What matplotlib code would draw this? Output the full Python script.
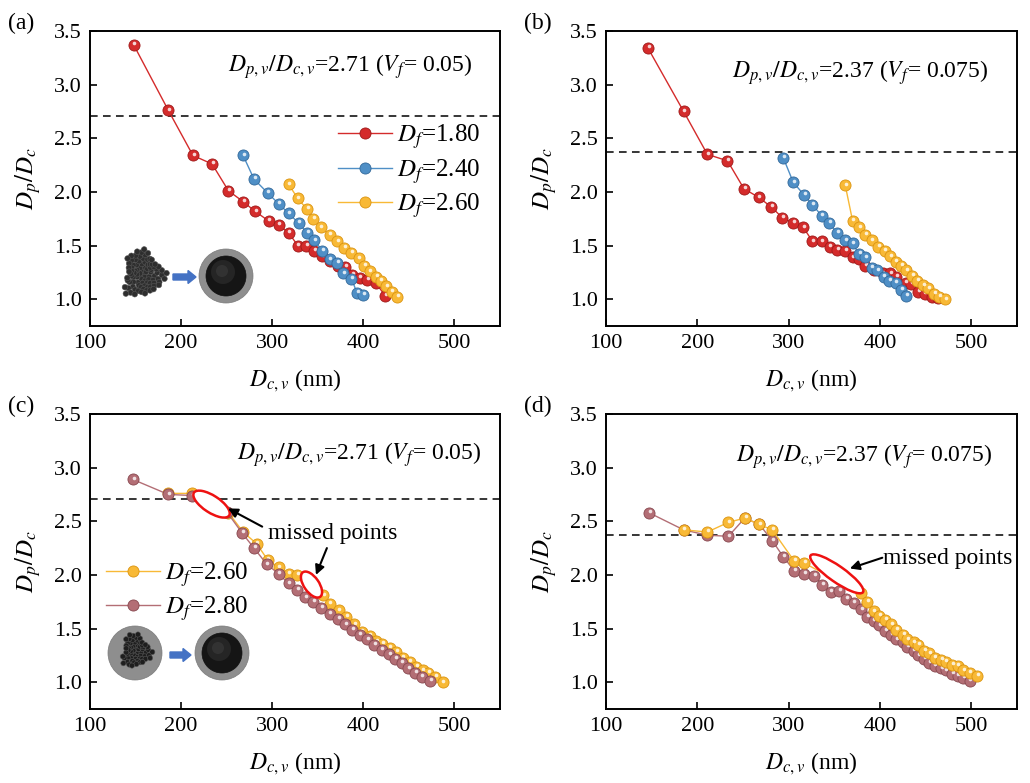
import numpy as np
import matplotlib
matplotlib.use("Agg")
import matplotlib.pyplot as plt
from matplotlib.patches import Ellipse, Circle, FancyArrow
from matplotlib.lines import Line2D
from matplotlib.transforms import ScaledTranslation

plt.rcParams['font.family'] = ['Liberation Serif', 'DejaVu Serif']
plt.rcParams['mathtext.fontset'] = 'stix'

# ---------------- data ----------------
a_red_x = [148, 186, 213, 234, 252, 268, 281, 296, 307, 318, 328, 337, 346, 355, 363, 372, 380, 388, 396, 404, 414, 424]
a_red_y = [3.37, 2.76, 2.34, 2.26, 2.01, 1.91, 1.82, 1.73, 1.69, 1.62, 1.50, 1.50, 1.45, 1.40, 1.36, 1.31, 1.30, 1.23, 1.20, 1.18, 1.15, 1.03]
a_blue_x = [268, 280, 295, 307, 318, 329, 338, 346, 355, 363, 371, 378, 387, 393, 400]
a_blue_y = [2.34, 2.12, 1.99, 1.89, 1.80, 1.71, 1.62, 1.55, 1.45, 1.37, 1.34, 1.24, 1.19, 1.06, 1.04]
a_yel_x = [318, 328, 338, 345, 353, 363, 371, 379, 387, 395, 401, 407, 414, 419, 425, 431, 437]
a_yel_y = [2.07, 1.94, 1.84, 1.75, 1.67, 1.60, 1.54, 1.48, 1.43, 1.38, 1.31, 1.26, 1.21, 1.17, 1.12, 1.07, 1.02]

b_red_x = [146, 185, 211, 233, 251, 267, 281, 293, 305, 316, 326, 336, 345, 353, 362, 370, 377, 384, 393, 403, 411, 418, 428, 434, 442, 449, 457, 464]
b_red_y = [3.34, 2.75, 2.35, 2.29, 2.03, 1.95, 1.86, 1.76, 1.71, 1.67, 1.54, 1.54, 1.49, 1.46, 1.45, 1.39, 1.37, 1.31, 1.27, 1.24, 1.24, 1.21, 1.15, 1.14, 1.07, 1.05, 1.02, 1.01]
b_blue_x = [294, 305, 317, 326, 336, 344, 353, 362, 370, 377, 384, 391, 397, 404, 410, 417, 423, 429]
b_blue_y = [2.32, 2.09, 1.97, 1.88, 1.78, 1.71, 1.62, 1.55, 1.52, 1.42, 1.39, 1.29, 1.27, 1.21, 1.17, 1.15, 1.09, 1.03]
b_yel_x = [362, 370, 377, 384, 391, 398, 405, 411, 417, 423, 429, 435, 441, 447, 453, 459, 465, 471]
b_yel_y = [2.06, 1.73, 1.67, 1.60, 1.55, 1.49, 1.45, 1.40, 1.35, 1.31, 1.27, 1.22, 1.17, 1.13, 1.10, 1.05, 1.02, 1.00]

c_yel_x = [186, 212, 252, 268, 283, 295, 307, 318, 327, 356, 363, 373, 381, 390, 398, 407, 414, 421, 429, 436, 443, 451, 458, 465, 471, 479, 487]
c_yel_y = [2.76, 2.76, 2.58, 2.40, 2.29, 2.14, 2.07, 2.01, 2.00, 1.81, 1.73, 1.67, 1.61, 1.54, 1.47, 1.43, 1.38, 1.36, 1.32, 1.28, 1.23, 1.19, 1.14, 1.11, 1.09, 1.05, 1.00]
c_brn_x = [147, 186, 212, 250, 267, 280, 294, 307, 318, 327, 336, 345, 354, 363, 372, 380, 388, 396, 404, 412, 420, 428, 435, 442, 449, 457, 464, 473]
c_brn_y = [2.89, 2.75, 2.74, 2.59, 2.39, 2.25, 2.10, 2.01, 1.92, 1.86, 1.79, 1.75, 1.69, 1.64, 1.59, 1.54, 1.49, 1.44, 1.40, 1.35, 1.30, 1.26, 1.22, 1.18, 1.13, 1.09, 1.05, 1.01]

d_yel_x = [185, 211, 234, 252, 268, 282, 306, 317, 379, 386, 393, 399, 406, 412, 418, 425, 430, 437, 442, 448, 454, 460, 467, 472, 479, 485, 491, 498, 506]
d_yel_y = [2.42, 2.40, 2.49, 2.53, 2.47, 2.42, 2.13, 2.11, 1.83, 1.75, 1.66, 1.62, 1.58, 1.54, 1.49, 1.44, 1.40, 1.37, 1.35, 1.29, 1.27, 1.23, 1.21, 1.19, 1.16, 1.15, 1.11, 1.09, 1.06]
d_brn_x = [147, 185, 211, 234, 252, 268, 282, 294, 306, 317, 328, 337, 346, 355, 363, 371, 379, 386, 393, 399, 406, 412, 418, 425, 430, 437, 442, 448, 454, 460, 467, 472, 479, 485, 491, 498]
d_brn_y = [2.58, 2.42, 2.37, 2.36, 2.53, 2.47, 2.32, 2.17, 2.04, 2.01, 1.99, 1.91, 1.84, 1.85, 1.78, 1.74, 1.68, 1.61, 1.57, 1.53, 1.48, 1.44, 1.40, 1.37, 1.33, 1.29, 1.25, 1.22, 1.18, 1.15, 1.13, 1.11, 1.08, 1.06, 1.04, 1.01]

ratio_a = 2.71
ratio_b = 2.37
x_ticks = [100, 200, 300, 400, 500]
y_ticks = [1.0, 1.5, 2.0, 2.5, 3.0, 3.5]

RED = ('#D42B2B', '#9E1A1A')
BLUE = ('#4F8FC6', '#33699A')
YEL = ('#F8B936', '#DB9410')
BRN = ('#B36E75', '#87484F')

W, H = 1030, 783
fig = plt.figure(figsize=(W / 100, H / 100), dpi=100)


def px_rect(x0, y0, x1, y1):
    return [x0 / W, 1 - y1 / H, (x1 - x0) / W, (y1 - y0) / H]


axA = fig.add_axes(px_rect(90, 31, 500, 326))
axB = fig.add_axes(px_rect(606, 31, 1017, 326))
axC = fig.add_axes(px_rect(90, 414, 500, 709))
axD = fig.add_axes(px_rect(606, 414, 1017, 709))


def style(ax, letter, xpx, ypx):
    ax.set_xlim(100, 550)
    ax.set_ylim(0.75, 3.5)
    ax.set_xticks(x_ticks)
    ax.set_yticks(y_ticks)
    ax.set_yticklabels([f'{v:.1f}' for v in y_ticks])
    ax.tick_params(direction='in', length=5, width=1.2, labelsize=16, pad=6, top=False, right=False)
    for s in ax.spines.values():
        s.set_linewidth(1.4)
    ax.set_xlabel(r'$D_{c,v}$ (nm)', fontsize=17, labelpad=10)
    ax.set_ylabel(r'$D_p/D_c$', fontsize=18, labelpad=8)
    fig.text(xpx / W, 1 - ypx / H, letter, fontsize=17, ha='left', va='center')


def balls(ax, x, y, col, z, label=None, lw=1.0):
    face, edge = col
    ax.plot(x, y, '-', color=face, lw=lw, zorder=z)
    ax.plot(x, y, 'o', ms=8, mfc=face, mec=edge, mew=0.6, ls='none', zorder=z + 0.1)
    hl = ax.transData + ScaledTranslation(0.5 / 72, 1.2 / 72, fig.dpi_scale_trans)
    ax.plot(x, y, 'o', ms=2.6, mfc='white', mec='none', alpha=0.8, ls='none', transform=hl, zorder=z + 0.2)
    return Line2D([], [], color=face, lw=lw, marker='o', ms=8, mfc=face, mec=edge, mew=0.6, label=label)


for ax, letter, xp, yp in [(axA, '(a)', 8, 23), (axB, '(b)', 524, 23), (axC, '(c)', 8, 406), (axD, '(d)', 524, 406)]:
    style(ax, letter, xp, yp)

# dashed lines
for ax, r in [(axA, ratio_a), (axB, ratio_b), (axC, ratio_a), (axD, ratio_b)]:
    ax.axhline(r, color='black', ls=(0, (5, 3.5)), lw=1.1, zorder=1)

txt_a = r'$D_{p,v}/D_{c,v}$=2.71 ($V_f$= 0.05)'
txt_b = r'$D_{p,v}/D_{c,v}$=2.37 ($V_f$= 0.075)'
axA.text(0.634, 0.878, txt_a, transform=axA.transAxes, ha='center', va='center', fontsize=17)
axB.text(0.618, 0.858, txt_b, transform=axB.transAxes, ha='center', va='center', fontsize=17)
axC.text(0.656, 0.861, txt_a, transform=axC.transAxes, ha='center', va='center', fontsize=17)
axD.text(0.628, 0.855, txt_b, transform=axD.transAxes, ha='center', va='center', fontsize=17)

# panel a
hA1 = balls(axA, a_red_x, a_red_y, RED, 3, r'$D_f$=1.80')
hA2 = balls(axA, a_blue_x, a_blue_y, BLUE, 4, r'$D_f$=2.40')
hA3 = balls(axA, a_yel_x, a_yel_y, YEL, 5, r'$D_f$=2.60')
axA.legend(handles=[hA1, hA2, hA3], loc='upper left', bbox_to_anchor=(0.605, 0.69),
           frameon=False, fontsize=18, handlelength=2.15, handletextpad=0.2,
           labelspacing=0.22, borderaxespad=0, borderpad=0)

# panel b
balls(axB, b_red_x, b_red_y, RED, 3)
balls(axB, b_blue_x, b_blue_y, BLUE, 4)
balls(axB, b_yel_x, b_yel_y, YEL, 5)

# panel c
hC1 = balls(axC, c_yel_x, c_yel_y, YEL, 3, r'$D_f$=2.60')
hC2 = balls(axC, c_brn_x, c_brn_y, BRN, 4, r'$D_f$=2.80')
axC.legend(handles=[hC1, hC2], loc='upper left', bbox_to_anchor=(0.04, 0.505),
           frameon=False, fontsize=18, handlelength=2.15, handletextpad=0.2,
           labelspacing=0.22, borderaxespad=0, borderpad=0)

# panel d
balls(axD, d_brn_x, d_brn_y, BRN, 3)
balls(axD, d_yel_x, d_yel_y, YEL, 4)


# "missed points" ellipses, size in pixels, centred at data points
def ell(ax, cx, cy, wpx, hpx, ang):
    tr = fig.dpi_scale_trans + ScaledTranslation(cx, cy, ax.transData)
    e = Ellipse((0, 0), wpx / 100, hpx / 100, angle=ang, transform=tr,
                facecolor='white', edgecolor='#EE1111', lw=1.8, zorder=10)
    ax.add_artist(e)


ell(axC, 233.4, 2.66, 42, 17, -33)
ell(axC, 343.1, 1.91, 30, 15, -55)
ell(axD, 352.7, 2.01, 64, 16, -35)

ap = dict(arrowstyle='-|>', color='black', lw=1.5, mutation_scale=14, shrinkA=0, shrinkB=0)
axC.annotate('', xy=(251.5, 2.62), xytext=(289, 2.45), arrowprops=ap, zorder=11)
axC.annotate('', xy=(348, 2.00), xytext=(360, 2.25), arrowprops=ap, zorder=11)
axC.text(366.7, 2.39, 'missed points', ha='center', va='center', fontsize=17, zorder=12)
axD.annotate('', xy=(367, 2.06), xytext=(402.5, 2.16), arrowprops=ap, zorder=11)
axD.text(403.5, 2.155, 'missed points', ha='left', va='center', fontsize=17, zorder=12)


# ---------------- inset pictures (decoration) ----------------
def overlay(x0, y0, x1, y1):
    a = fig.add_axes(px_rect(x0, y0, x1, y1))
    a.set_xlim(x0, x1)
    a.set_ylim(y1, y0)
    a.axis('off')
    return a


def aggregate(a, cx, cy, rmax, n, rdot, col='#2E2E2E'):
    ga = np.pi * (3 - np.sqrt(5))
    for i in range(n):
        th = i * ga
        r = rmax * np.sqrt((i + 0.5) / n) * (1 + 0.2 * np.sin(3 * th + 1.0) + 0.1 * np.cos(5 * th))
        x = cx + r * np.cos(th) * 0.92
        y = cy + r * np.sin(th) * 1.08
        a.add_patch(Circle((x, y), rdot, facecolor=col, edgecolor='#555555', lw=0.4))


def sphere(a, cx, cy, shell=True):
    a.add_patch(Circle((cx, cy), 27, facecolor='#8E8E8E', edgecolor='#7A7A7A', lw=0.5))
    if shell:
        a.add_patch(Circle((cx, cy), 20, facecolor='#151515', edgecolor='#101010', lw=0.5))
        a.add_patch(Circle((cx - 3, cy - 4), 12, facecolor='#2C2C2C', edgecolor='none', alpha=0.7))
        a.add_patch(Circle((cx - 4, cy - 5), 6, facecolor='#3C3C3C', edgecolor='none', alpha=0.6))


def blue_arrow(a, x0, x1, y):
    a.add_patch(FancyArrow(x0, y, x1 - x0, 0, width=6, head_width=13, head_length=8,
                           length_includes_head=True, color='#4472C4'))


insA = overlay(110, 240, 260, 310)
aggregate(insA, 143, 274, 21, 95, 2.8)
blue_arrow(insA, 173, 196, 277)
sphere(insA, 226, 276)

insC = overlay(100, 620, 260, 690)
sphere(insC, 135, 653, shell=False)
aggregate(insC, 136, 651, 15, 65, 2.6, col='#1E1E1E')
blue_arrow(insC, 170, 191, 655)
sphere(insC, 222, 653)

fig.savefig('out.png', dpi=100)
